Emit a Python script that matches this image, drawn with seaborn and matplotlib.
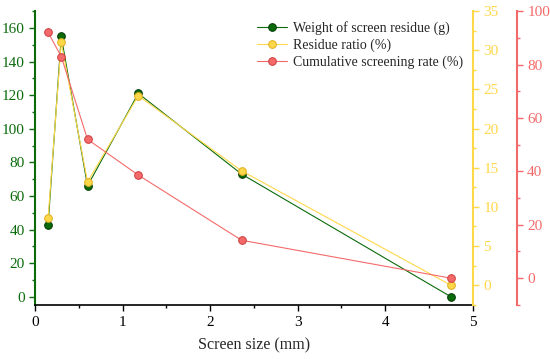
import seaborn as sns
import matplotlib.pyplot as plt
import pandas as pd
from matplotlib.ticker import MultipleLocator

# screen sizes (mm) and the three measured series
screen_size = [0.15, 0.3, 0.6, 1.18, 2.36, 4.75]
residue_weight = [43, 155, 66, 121, 73, 0]
residue_ratio = [8.6, 31.0, 13.2, 24.2, 14.6, 0.0]
cum_rate = [92.0, 83.0, 52.0, 38.6, 14.2, 0.0]

df = pd.DataFrame({"size": screen_size, "weight": residue_weight,
                   "ratio": residue_ratio, "cum": cum_rate})

sns.set_theme(style="ticks")
plt.rcParams['font.family'] = ['Liberation Serif', 'DejaVu Serif']
plt.rcParams['xtick.direction'] = 'out'
plt.rcParams['ytick.direction'] = 'out'

green = "#0b6b0b"
yellow = "#ffd84a"
red = "#f46a6a"

fig = plt.figure(figsize=(5.5, 3.59), dpi=100)
ax = fig.add_axes([0.0636, 0.150, 0.796, 0.819])
ax2 = ax.twinx()
ax3 = ax.twinx()
# outward offset is in points: 44 px at 100 dpi
ax3.spines['right'].set_position(('outward', 44 * 0.72))

mk = dict(marker='o', markersize=5.5, linewidth=0.8)
sns.lineplot(data=df, x="size", y="weight", ax=ax, color=green,
             markeredgecolor="#033d03", label="Weight of screen residue (g)", legend=False, **mk)
sns.lineplot(data=df, x="size", y="ratio", ax=ax2, color=yellow,
             markeredgecolor="#e0b020", label="Residue ratio (%)", legend=False, **mk)
sns.lineplot(data=df, x="size", y="cum", ax=ax3, color=red,
             markeredgecolor="#d04040", label="Cumulative screening rate (%)", legend=False, **mk)

ax.set_xlim(0, 5)
ax.set_ylim(-5, 170)
ax2.set_ylim(-2.55, 35)
ax3.set_ylim(-10.1, 100)

ax.xaxis.set_major_locator(MultipleLocator(1))
ax.xaxis.set_minor_locator(MultipleLocator(0.5))
ax.yaxis.set_major_locator(MultipleLocator(20))
ax.yaxis.set_minor_locator(MultipleLocator(10))
ax2.yaxis.set_major_locator(MultipleLocator(5))
ax2.yaxis.set_minor_locator(MultipleLocator(2.5))
ax3.yaxis.set_major_locator(MultipleLocator(20))
ax3.yaxis.set_minor_locator(MultipleLocator(10))

ax.set_xlabel("Screen size (mm)", fontsize=11.5, labelpad=6)
ax.set_ylabel("")
ax2.set_ylabel("")
ax3.set_ylabel("")

for a in (ax, ax2, ax3):
    a.spines['top'].set_visible(False)
ax.spines['right'].set_visible(False)
ax2.spines['left'].set_visible(False)
ax3.spines['left'].set_visible(False)
ax2.spines['bottom'].set_visible(False)
ax3.spines['bottom'].set_visible(False)

ax.spines['left'].set_color(green)
ax.spines['left'].set_linewidth(1.5)
ax.spines['bottom'].set_color('black')
ax.spines['bottom'].set_linewidth(1.2)
ax2.spines['right'].set_color(yellow)
ax2.spines['right'].set_linewidth(1.5)
ax3.spines['right'].set_color(red)
ax3.spines['right'].set_linewidth(1.5)

for a, axis, col in ((ax, 'x', 'black'), (ax, 'y', green),
                     (ax2, 'y', yellow), (ax3, 'y', red)):
    a.tick_params(axis=axis, which='both', colors=col, labelsize=11, width=1)
    a.tick_params(axis=axis, which='major', length=4)
    a.tick_params(axis=axis, which='minor', length=2.5)

handles = []
labels = []
for a in (ax, ax2, ax3):
    h, l = a.get_legend_handles_labels()
    handles += h
    labels += l
ax3.legend(handles, labels, loc='upper right', bbox_to_anchor=(1.0, 1.0),
           frameon=False, fontsize=10, handlelength=2.2, handletextpad=0.4,
           labelspacing=0.25, borderaxespad=0.3)

fig.savefig("out.png", dpi=100)
